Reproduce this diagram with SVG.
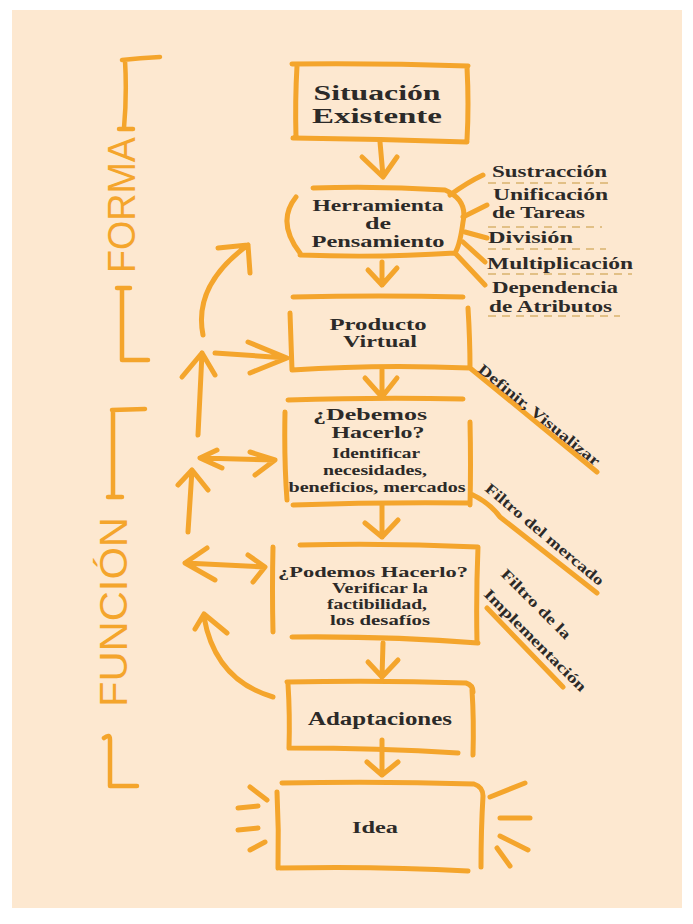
<svg xmlns="http://www.w3.org/2000/svg" width="693" height="924" viewBox="0 0 693 924">
<style>
.s{fill:none;stroke:#F4A52C;stroke-width:5;stroke-linecap:round;stroke-linejoin:round}
.b{fill:none;stroke:#F4A52C;stroke-width:4.5;stroke-linecap:round;stroke-linejoin:round}
.d{fill:none;stroke:#D9B36E;stroke-width:1.6;stroke-dasharray:8 6}
.t{font-family:"Liberation Serif","Times New Roman",serif;font-weight:bold;fill:#2c2a28}
.c{text-anchor:middle}
.side{font-family:"Liberation Sans",Arial,sans-serif;fill:#F4A52C;font-size:39px;text-anchor:middle}
</style>
<rect x="0" y="0" width="693" height="924" fill="#ffffff"/>
<rect x="12" y="10" width="670" height="898" fill="#FDE8D0"/>

<g id="bracket-forma">
<path class="b" d="M160,57 Q140,58 122,60 M125,60 Q127,95 124,128 M119,129 L133,129 M117,288 L130,288 M122,288 L122,360 L148,360"/>
<text class="side" transform="translate(135,205) rotate(-90)" textLength="136" lengthAdjust="spacingAndGlyphs">FORMA</text>
</g>
<g id="bracket-funcion">
<path class="b" d="M145,409 L112,410 M113,410 L113,497 M108,497 L122,497 M104,738 Q110,733 110,740 L110,786 L137,786"/>
<text class="side" transform="translate(127,612) rotate(-90)" textLength="190" lengthAdjust="spacingAndGlyphs">FUNCIÓN</text>
</g>

<g id="situacion">
<path class="s" d="M292,64 Q380,63 468,66 M297,66 Q295,100 296,138 M467,67 Q469,105 467,140 M293,138 Q380,139 467,142"/>
<text class="t c" x="377" y="100" font-size="20" textLength="127" lengthAdjust="spacingAndGlyphs">Situación</text>
<text class="t c" x="377" y="123" font-size="20" textLength="130" lengthAdjust="spacingAndGlyphs">Existente</text>
</g>

<g id="herramienta">
<path class="s" d="M313,188 Q380,186 445,190 Q468,200 463,222 Q460,245 455,253 M296,197 Q276,222 300,253 M300,255 Q380,258 455,253"/>
<path class="s" d="M450,195 Q468,182 483,175 M463,217 L487,205 M465,232 L487,238 M463,242 L485,262 M455,253 L485,285"/>
<text class="t c" x="378" y="211" font-size="16" textLength="131" lengthAdjust="spacingAndGlyphs">Herramienta</text>
<text class="t c" x="378" y="229" font-size="16" textLength="26" lengthAdjust="spacingAndGlyphs">de</text>
<text class="t c" x="378" y="247" font-size="16" textLength="133" lengthAdjust="spacingAndGlyphs">Pensamiento</text>
</g>

<g id="herramientas-lista">
<text class="t" x="492" y="177" font-size="16" textLength="115" lengthAdjust="spacingAndGlyphs">Sustracción</text>
<path class="d" d="M488,183 L612,183"/>
<text class="t" x="493" y="200" font-size="16" textLength="115" lengthAdjust="spacingAndGlyphs">Unificación</text>
<text class="t" x="492" y="218" font-size="16" textLength="93" lengthAdjust="spacingAndGlyphs">de Tareas</text>
<path class="d" d="M488,227 L602,227"/>
<text class="t" x="488" y="243" font-size="16" textLength="85" lengthAdjust="spacingAndGlyphs">División</text>
<path class="d" d="M488,249 L606,249"/>
<text class="t" x="487" y="269" font-size="16" textLength="146" lengthAdjust="spacingAndGlyphs">Multiplicación</text>
<path class="d" d="M488,274 L632,274"/>
<text class="t" x="492" y="293" font-size="16" textLength="126" lengthAdjust="spacingAndGlyphs">Dependencia</text>
<text class="t" x="489" y="312" font-size="16" textLength="123" lengthAdjust="spacingAndGlyphs">de Atributos</text>
<path class="d" d="M488,316 L620,316"/>
</g>

<g id="producto">
<path class="s" d="M293,297 Q380,295 463,297 M290,313 Q291,340 292,370 M468,308 Q470,340 470,368 M292,370 Q380,364 470,368 L597,472"/>
<text class="t c" x="378" y="330" font-size="16" textLength="97" lengthAdjust="spacingAndGlyphs">Producto</text>
<text class="t c" x="380" y="347" font-size="16" textLength="74" lengthAdjust="spacingAndGlyphs">Virtual</text>
<text class="t" transform="translate(477,371) rotate(39)" font-size="15" textLength="152" lengthAdjust="spacingAndGlyphs">Definir, Visualizar</text>
</g>

<g id="debemos">
<path class="s" d="M288,400 Q380,397 463,399 M285,412 Q284,460 287,500 M470,422 Q471,465 470,505 M293,505 Q380,502 470,503 M471,494 Q490,503 500,517 L597,593"/>
<text class="t c" x="370" y="420" font-size="17" textLength="114" lengthAdjust="spacingAndGlyphs">¿Debemos</text>
<text class="t c" x="378" y="438" font-size="17" textLength="93" lengthAdjust="spacingAndGlyphs">Hacerlo?</text>
<text class="t c" x="376" y="458" font-size="14" textLength="88" lengthAdjust="spacingAndGlyphs">Identificar</text>
<text class="t c" x="375" y="475" font-size="14" textLength="104" lengthAdjust="spacingAndGlyphs">necesidades,</text>
<text class="t c" x="377" y="492" font-size="14" textLength="177" lengthAdjust="spacingAndGlyphs">beneficios, mercados</text>
<text class="t" transform="translate(484,490) rotate(40)" font-size="15" textLength="150" lengthAdjust="spacingAndGlyphs">Filtro del mercado</text>
</g>

<g id="podemos">
<path class="s" d="M300,545 Q390,543 478,547 M273,547 Q272,590 273,632 M478,547 Q476,595 477,643 M292,637 Q390,636 478,643 M487,608 L563,687"/>
<text class="t c" x="373" y="577" font-size="15" textLength="190" lengthAdjust="spacingAndGlyphs">¿Podemos Hacerlo?</text>
<text class="t c" x="380" y="593" font-size="15" textLength="96" lengthAdjust="spacingAndGlyphs">Verificar la</text>
<text class="t c" x="377" y="609" font-size="15" textLength="100" lengthAdjust="spacingAndGlyphs">factibilidad,</text>
<text class="t c" x="380" y="625" font-size="15" textLength="100" lengthAdjust="spacingAndGlyphs">los desafíos</text>
<text class="t" transform="translate(500,575) rotate(45)" font-size="15" textLength="92" lengthAdjust="spacingAndGlyphs">Filtro de la</text>
<text class="t" transform="translate(483,595) rotate(45)" font-size="15" textLength="138" lengthAdjust="spacingAndGlyphs">Implementación</text>
</g>

<g id="adaptaciones">
<path class="s" d="M287,682 Q380,680 466,683 Q473,685 473,692 M472,690 Q474,720 473,755 M288,684 Q290,715 289,748 M289,748 Q380,748 458,753"/>
<text class="t c" x="380" y="725" font-size="18" textLength="144" lengthAdjust="spacingAndGlyphs">Adaptaciones</text>
</g>

<g id="idea">
<path class="s" d="M282,783 Q380,781 474,784 Q483,787 483,796 M483,796 Q481,830 481,867 M277,792 Q279,830 278,868 M280,868 Q380,866 468,871"/>
<path class="s" d="M250,787 L267,800 M238,808 L258,806 M238,830 L258,828 M250,850 L265,842 M490,797 L525,783 M500,818 L530,818 M500,836 L528,850 M497,848 L510,866"/>
<text class="t c" x="375" y="833" font-size="17" textLength="46" lengthAdjust="spacingAndGlyphs">Idea</text>
</g>

<g id="connectors">
<path class="s" d="M380,142 L383,176 M362,157 L383,177 L397,157"/>
<path class="s" d="M382,262 L382,285 M368,270 L382,285 L397,268"/>
<path class="s" d="M382,370 L382,397 M365,378 L382,397 L397,378"/>
<path class="s" d="M382,505 L382,537 M365,523 L382,537 L398,520"/>
<path class="s" d="M383,643 L382,677 M368,662 L382,677 L398,660"/>
<path class="s" d="M382,740 L382,775 M367,762 L382,775 L398,762"/>
<path class="s" d="M203,335 Q193,285 248,245 M218,248 L248,245 L250,273"/>
<path class="s" d="M198,435 L202,353 M182,377 L202,353 L215,375"/>
<path class="s" d="M215,353 L287,358 M248,342 L287,358 L250,373"/>
<path class="s" d="M200,458 L275,460 M217,450 L200,458 L222,468 M250,452 L275,460 L255,475"/>
<path class="s" d="M188,532 L192,470 M178,485 L192,470 L208,490"/>
<path class="s" d="M185,563 L265,567 M207,548 L185,563 L215,580 M248,555 L265,567 L253,582"/>
<path class="s" d="M273,697 Q215,680 204,617 M195,629 L204,614 L227,633"/>
</g>
</svg>
